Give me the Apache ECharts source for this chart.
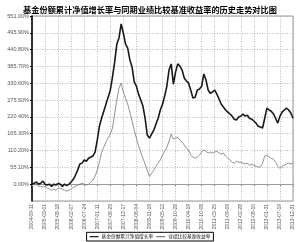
<!DOCTYPE html>
<html>
<head>
<meta charset="utf-8">
<script src="https://cdn.jsdelivr.net/npm/echarts@6/dist/echarts.min.js"></script>
<style>
  html, body { margin: 0; padding: 0; background: #fff; }
  #chartId { width: 300px; height: 242px; }
</style>
</head>
<body>
<div id="chartId"></div>
<script>
// 横轴刻度日期
let xLabels = [
  "2004-09-11", "2005-03-01", "2005-08-18", "2006-02-07", "2006-07-24",
  "2007-01-11", "2007-06-29", "2007-12-17", "2008-06-04", "2008-11-19",
  "2009-05-12", "2009-10-28", "2010-04-19", "2010-10-08", "2011-03-25",
  "2011-09-09", "2012-02-28", "2012-08-15", "2013-01-31", "2013-07-19",
  "2013-12-31",
];
// 纵轴刻度
let yTicks = [-55.1, 0, 55.1, 110.2, 165.3, 220.4, 275.5, 330.6, 385.7, 440.8, 495.9, 551];

// 基金份额累计净值增长率 (%)
let fundData = [
  0, 3, 7, 0, 3, 10, 0, -3, 0, -7,
  0, -3, 3, 0, -7, 0, -5, 0, 7, 16,
  30, 46, 66, 69, 79, 75, 85, 89, 92, 105,
  144, 190, 216, 239, 262, 285, 308, 351, 400, 459,
  479, 525, 495, 459, 446, 407, 384, 335, 321, 295,
  276, 256, 216, 161, 151, 164, 177, 197, 216, 243,
  262, 289, 321, 374, 394, 328, 367, 394, 387, 374,
  348, 338, 331, 308, 282, 285, 308, 312, 321, 361,
  341, 308, 298, 302, 308, 295, 279, 262, 253, 243,
  236, 230, 223, 213, 210, 220, 223, 230, 223, 226,
  216, 213, 207, 200, 190, 187, 184, 216, 249, 243,
  239, 230, 216, 200, 223, 236, 243, 249, 243, 233,
  216,
];
// 业绩比较基准收益率 (%)
let benchData = [
  0, -3, 0, -7, -7, -10, -7, -13, -16, -20,
  -16, -20, -13, -13, -16, -20, -23, -20, -16, -10,
  -7, -3, 0, 3, 0, -3, 0, 7, 13, 26,
  46, 72, 105, 121, 138, 151, 164, 184, 230, 276,
  315, 331, 302, 282, 262, 236, 207, 177, 151, 125,
  105, 85, 66, 46, 26, 36, 46, 59, 69, 79,
  95, 108, 121, 141, 164, 148, 151, 154, 144, 138,
  128, 118, 112, 95, 89, 85, 89, 95, 105, 112,
  108, 102, 105, 102, 105, 108, 102, 98, 102, 92,
  85, 79, 72, 69, 75, 72, 72, 69, 66, 69,
  62, 66, 62, 59, 56, 56, 69, 92, 95, 89,
  85, 82, 72, 59, 52, 59, 62, 66, 69, 66,
  69,
];

const step = (fundData.length - 1) / (xLabels.length - 1); // 每个刻度间隔的点数
const cGray = "#555";

let toPairs = (arr) => arr.map((v, i) => [i, v]);

let option = {
  animation: false,
  title: {
    text: "基金份额累计净值增长率与同期业绩比较基准收益率的历史走势对比图",
    left: "center",
    top: 1,
    textStyle: {
      fontSize: 8.2,
      fontWeight: "bold",
      color: "#000",
      fontFamily: "Noto Sans CJK SC",
    },
  },
  legend: {
    bottom: 1,
    left: "center",
    orient: "horizontal",
    borderColor: "#000",
    borderWidth: 1,
    padding: [2, 3],
    itemGap: 3,
    itemWidth: 9,
    itemHeight: 1.2,
    icon: "rect",
    textStyle: { fontSize: 4.7, color: "#111", fontFamily: "Noto Sans CJK SC", padding: [0, 0, 0, -2] },
    data: ["基金份额累计净值增长率", "业绩比较基准收益率"],
  },
  grid: {
    left: 32,
    right: 7,
    top: 16,
    bottom: 41,
    show: true,
    borderColor: "#999",
    borderWidth: 1,
    containLabel: false,
  },
  xAxis: {
    type: "value",
    min: 0,
    max: fundData.length - 1,
    interval: step,
    axisLine: { show: true, lineStyle: { color: "#999", width: 1 } },
    axisTick: { show: true, length: 2, lineStyle: { color: "#999" } },
    splitLine: { show: true, lineStyle: { color: "#aaa", type: [1, 1.5], width: 0.8 } },
    axisLabel: {
      rotate: 90,
      fontSize: 5,
      color: cGray,
      margin: 3,
      fontFamily: "Liberation Sans",
      formatter: (v) => xLabels[Math.round(v / step)] || "",
    },
  },
  yAxis: {
    type: "value",
    min: yTicks[0],
    max: yTicks[yTicks.length - 1],
    interval: 55.1,
    axisLine: { show: true, lineStyle: { color: "#000", width: 1.5 } },
    axisTick: { show: true, length: 2, lineStyle: { color: "#000" } },
    splitLine: { show: true, lineStyle: { color: "#aaa", type: [1, 1.5], width: 0.8 } },
    axisLabel: {
      showMinLabel: false,
      fontSize: 5.5,
      color: cGray,
      margin: 3,
      fontFamily: "Liberation Sans",
      formatter: (v) => v.toFixed(2) + "%",
    },
  },
  series: [
    {
      name: "基金份额累计净值增长率",
      type: "line",
      data: toPairs(fundData),
      symbol: "none",
      lineStyle: { color: "#1a1a1a", width: 1.6 },
      itemStyle: { color: "#1a1a1a" },
      z: 3,
    },
    {
      name: "业绩比较基准收益率",
      type: "line",
      data: toPairs(benchData),
      symbol: "none",
      lineStyle: { color: "#777", width: 0.8 },
      itemStyle: { color: "#777" },
      z: 2,
    },
  ],
};

let chart = echarts.init(document.getElementById("chartId"));
chart.setOption(option);
</script>
</body>
</html>
